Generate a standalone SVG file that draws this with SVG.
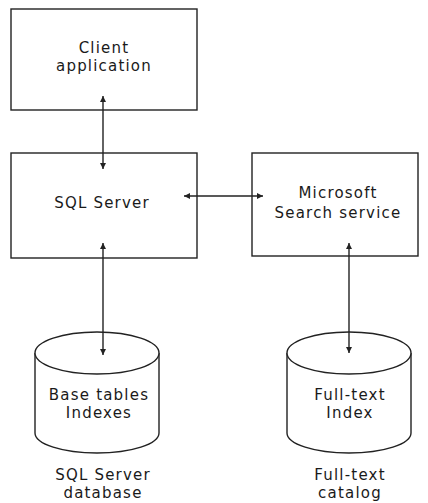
<svg xmlns="http://www.w3.org/2000/svg" width="428" height="503" viewBox="0 0 428 503">
<style>
.box{fill:#fff;stroke:#222;stroke-width:1.4}
.cyl{fill:#fff;stroke:#222;stroke-width:1.4}
.t{font-family:"DejaVu Sans",sans-serif;font-size:15px;letter-spacing:1.2px;fill:#1a1a1a;text-anchor:middle}
.c{stroke:#222;stroke-width:1.4;fill:none;marker-start:url(#a);marker-end:url(#a)}
</style>
<defs>
<marker id="a" viewBox="0 0 10 10" refX="10" refY="5" markerWidth="6" markerHeight="6" markerUnits="userSpaceOnUse" orient="auto-start-reverse">
<path d="M0,0 L10,5 L0,10 z" fill="#222"/>
</marker>
</defs>
<rect width="428" height="503" fill="#fff"/>
<g id="client">
<rect class="box" x="11" y="9" width="186" height="101"/>
<text class="t" x="104" y="53">Client</text>
<text class="t" x="104" y="71">application</text>
</g>
<g id="sqlserver">
<rect class="box" x="11" y="153" width="186" height="105"/>
<text class="t" x="102" y="208">SQL Server</text>
</g>
<g id="search">
<rect class="box" x="252" y="153" width="166" height="103"/>
<text class="t" x="338" y="198">Microsoft</text>
<text class="t" x="338" y="218">Search service</text>
</g>
<g id="sqldb">
<path class="cyl" d="M35,353 L35,433 A62,20 0 0 0 159,433 L159,353"/>
<ellipse class="cyl" cx="97" cy="353" rx="62" ry="21"/>
<text class="t" x="99" y="400">Base tables</text>
<text class="t" x="99" y="418">Indexes</text>
<text class="t" x="103" y="480">SQL Server</text>
<text class="t" x="103" y="498">database</text>
</g>
<g id="ftcatalog">
<path class="cyl" d="M287,353 L287,433 A62,20 0 0 0 411,433 L411,353"/>
<ellipse class="cyl" cx="349" cy="353" rx="62" ry="21"/>
<text class="t" x="350" y="400">Full-text</text>
<text class="t" x="350" y="418">Index</text>
<text class="t" x="350" y="480">Full-text</text>
<text class="t" x="350" y="498">catalog</text>
</g>
<g id="connectors">
<line class="c" x1="103" y1="96" x2="103" y2="169"/>
<line class="c" x1="184" y1="196" x2="263" y2="196"/>
<line class="c" x1="103" y1="243" x2="103" y2="355"/>
<line class="c" x1="349" y1="243" x2="349" y2="353"/>
</g>
</svg>
